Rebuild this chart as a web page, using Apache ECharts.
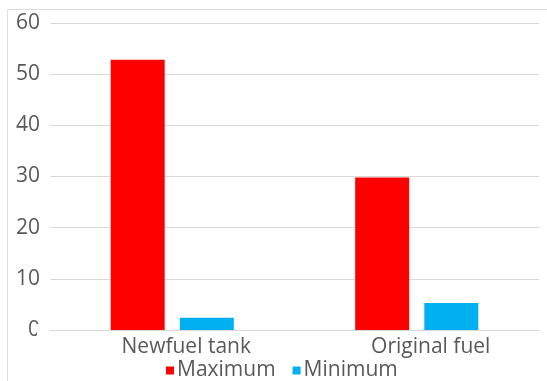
<!DOCTYPE html>
<html>
<head>
<meta charset="utf-8">
<script src="https://cdn.jsdelivr.net/npm/echarts@6/dist/echarts.min.js"></script>
<style>html,body{margin:0;padding:0;background:#fff}#c{width:547px;height:381px}</style>
</head>
<body>
<div id="c"></div>
<script>
var categories = ['Newfuel tank', 'Original fuel'];
var maximumValues = [52.8, 29.8];
var minimumValues = [2.4, 5.3];
var yTicks = [0, 10, 20, 30, 40, 50, 60];

var chart = echarts.init(document.getElementById('c'), null, {renderer: 'canvas'});
var font = '"Open Sans", sans-serif';
chart.setOption({
  animation: false,
  backgroundColor: '#ffffff',
  grid: {left: 50, right: 8, top: 23, bottom: 51, containLabel: false},
  legend: {
    data: ['Maximum', 'Minimum'],
    bottom: -5,
    left: 161,
    itemWidth: 8,
    itemHeight: 8,
    itemGap: 17,
    icon: 'rect',
    textStyle: {fontFamily: font, fontSize: 21, color: '#595959', padding: [0, 0, 0, -2]}
  },
  xAxis: {
    type: 'category',
    data: categories,
    axisLine: {show: true, lineStyle: {color: '#d9d9d9', width: 1}},
    axisTick: {show: false},
    axisLabel: {fontFamily: font, fontSize: 21, color: '#595959', margin: 7, padding: [0, 0, 0, 28]}
  },
  yAxis: {
    type: 'value',
    min: yTicks[0],
    max: yTicks[yTicks.length - 1],
    interval: 10,
    axisLine: {show: false},
    axisTick: {show: false},
    splitLine: {lineStyle: {color: '#d9d9d9', width: 1}},
    axisLabel: {fontFamily: font, fontSize: 21, color: '#595959', margin: 10, padding: [13, 0, 0, 0]}
  },
  series: [
    {name: 'Maximum', type: 'bar', data: maximumValues, barWidth: 54, barGap: '28%',
     itemStyle: {color: '#ff0000'}},
    {name: 'Minimum', type: 'bar', data: minimumValues, barWidth: 54,
     itemStyle: {color: '#00b0f0'}}
  ],
  graphic: [
    {type: 'rect', shape: {x: 7.5, y: 9.5, width: 600, height: 400}, style: {fill: 'none', stroke: '#dedede', lineWidth: 1}, z: 100},
    {type: 'rect', shape: {x: 37, y: 324, width: 9, height: 26}, style: {fill: '#ffffff'}, z: 100}
  ]
});
</script>
</body>
</html>
